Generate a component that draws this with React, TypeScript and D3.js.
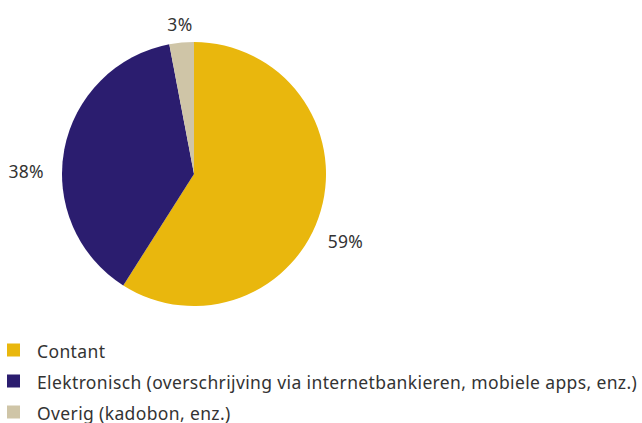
import { useEffect, useRef } from "react";
import * as d3 from "d3";

// chart data
const categories = ["Contant", "Elektronisch", "Overig"];
const legendLabels = [
  "Contant",
  "Elektronisch (overschrijving via internetbankieren, mobiele apps, enz.)",
  "Overig (kadobon, enz.)",
];
const values = [59, 38, 3];
const colors = ["#E9B70D", "#2B1D6F", "#CFC5A7"];

const App = () => {
  const ref = useRef<SVGSVGElement | null>(null);

  useEffect(() => {
    const svg = d3.select(ref.current);
    svg.selectAll("*").remove();

    const width = 642, height = 423;
    const cx = 194, cy = 174, radius = 132;
    const font = "'Noto Sans', 'Open Sans', sans-serif";

    const pie = d3.pie<number>().sort(null).value((d) => d);
    const arcs = pie(values);
    const arc = d3.arc<d3.PieArcDatum<number>>().innerRadius(0).outerRadius(radius);

    const g = svg.append("g").attr("transform", `translate(${cx},${cy})`);
    g.selectAll("path")
      .data(arcs)
      .join("path")
      .attr("d", arc)
      .attr("fill", (_d, i) => colors[i]);

    // data labels, pushed a bit around the pie like the original layout
    const nudge: Record<string, number> = { Contant: 10.8, Elektronisch: -10, Overig: 0 };
    const labelR = radius + 18;
    g.selectAll("text.lbl")
      .data(arcs)
      .join("text")
      .attr("class", "lbl")
      .each(function (d, i) {
        const a = (d.startAngle + d.endAngle) / 2 + (nudge[categories[i]] * Math.PI) / 180;
        const x = labelR * Math.sin(a);
        const y = -labelR * Math.cos(a);
        const s = Math.sin(a);
        d3.select(this)
          .attr("x", x)
          .attr("y", y)
          .attr("dy", "-0.05em")
          .attr("text-anchor", s > 0.3 ? "start" : s < -0.3 ? "end" : "middle")
          .attr("dominant-baseline", "central");
      })
      .attr("font-family", font)
      .attr("font-size", 17.5)
      .attr("letter-spacing", 0.35)
      .attr("fill", "#333")
      .text((d) => `${d.data}%`);

    // legend
    const ly = d3.scaleBand<string>().domain(categories).range([335, 428]).paddingInner(0);
    const leg = svg.append("g");
    const items = leg.selectAll("g").data(categories).join("g")
      .attr("transform", (d) => `translate(0,${(ly(d) ?? 0) + ly.bandwidth() / 2})`);
    items.append("rect")
      .attr("x", 7).attr("y", -7).attr("width", 13).attr("height", 13)
      .attr("fill", (_d, i) => colors[i]);
    items.append("text")
      .attr("x", 37).attr("y", 0)
      .attr("dominant-baseline", "central")
      .attr("font-family", font)
      .attr("font-size", 17.5)
      .attr("letter-spacing", 0.37)
      .attr("fill", "#333")
      .text((_d, i) => legendLabels[i]);

    svg.attr("width", width).attr("height", height);
  }, []);

  return (
    <svg
      ref={ref}
      width={642}
      height={423}
      style={{ position: "absolute", left: 0, top: 0, background: "#fff" }}
    />
  );
};

export default App;
